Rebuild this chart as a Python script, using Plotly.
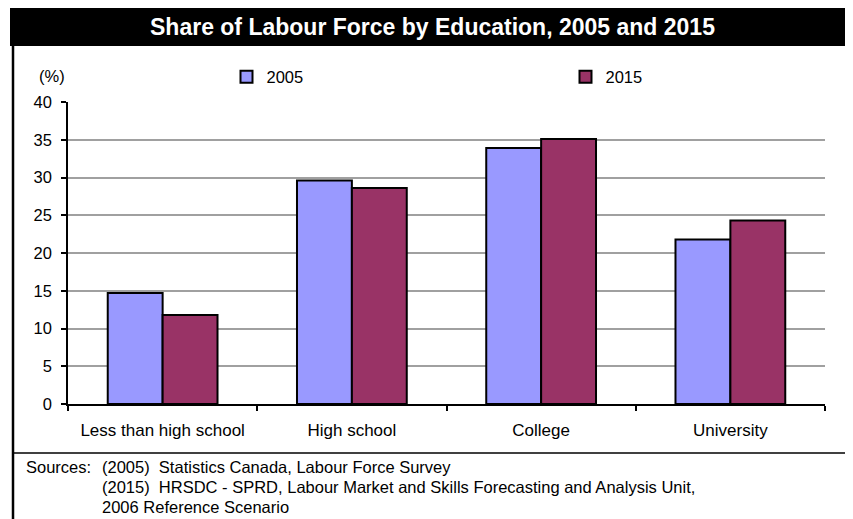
import plotly.graph_objects as go

categories = ["Less than high school", "High school", "College", "University"]
share_2005 = [14.7, 29.6, 33.9, 21.8]
share_2015 = [11.8, 28.6, 35.1, 24.3]
y_ticks = [0, 5, 10, 15, 20, 25, 30, 35, 40]

# the page's body margin places the figure 8px in from the top-left corner
OFF = 8
W, H = 853 - OFF, 519 - OFF
FONT = "Liberation Sans, Arial, sans-serif"
FS = 16.5

def px(x):
    return (x - OFF) / W

def py(y):
    return 1 - (y - OFF) / H

fig = go.Figure()
fig.add_trace(go.Bar(
    x=categories, y=share_2005, name="2005",
    marker=dict(color="#9999FF", line=dict(color="black", width=2)),
))
fig.add_trace(go.Bar(
    x=categories, y=share_2015, name="2015",
    marker=dict(color="#993366", line=dict(color="black", width=2)),
))

shapes = [
    # title bar
    dict(type="rect", xref="paper", yref="paper", x0=px(10), x1=px(849), y0=py(46), y1=py(7),
         fillcolor="black", line=dict(color="black", width=0), layer="below"),
    # frame left/right
    dict(type="line", xref="paper", yref="paper", x0=px(13), x1=px(13), y0=py(46), y1=py(519),
         line=dict(color="black", width=2.5)),
    dict(type="line", xref="paper", yref="paper", x0=px(848), x1=px(848), y0=py(46), y1=py(519),
         line=dict(color="black", width=2.5)),
    # separator
    dict(type="line", xref="paper", yref="paper", x0=px(13), x1=px(848), y0=py(453), y1=py(453),
         line=dict(color="black", width=1.5)),
]

def note(text, x, y, size=FS, color="black", anchor="left"):
    return dict(text=text, xref="paper", yref="paper", x=px(x), y=py(y), showarrow=False,
                font=dict(family=FONT, size=size, color=color), xanchor=anchor, yanchor="middle")

annotations = [
    note("<b>Share of Labour Force by Education, 2005 and 2015</b>", 432, 27, size=23,
         color="white", anchor="center"),
    note("(%)", 37, 76),
    note("Sources:", 24, 467),
    note("(2005)\u00a0\u00a0Statistics Canada, Labour Force Survey", 100, 467),
    note("(2015)\u00a0\u00a0HRSDC - SPRD, Labour Market and Skills Forecasting and Analysis Unit,", 100, 487),
    note("2006 Reference Scenario", 100, 507),
]

fig.update_layout(
    width=W, height=H,
    margin=dict(l=0, r=0, t=0, b=0, pad=0, autoexpand=False),
    paper_bgcolor="white", plot_bgcolor="white",
    barmode="group", bargap=0.42, bargroupgap=0,
    font=dict(family=FONT, size=17, color="black"),
    shapes=shapes, annotations=annotations,
    legend=dict(x=px(226.5), y=py(77), xanchor="left", yanchor="middle", orientation="h",
                entrywidth=294, entrywidthmode="pixels",
                bgcolor="rgba(0,0,0,0)", font=dict(family=FONT, size=FS, color="black")),
    xaxis=dict(domain=[px(68), px(825)], showline=True, linecolor="black", linewidth=1.5,
               ticks="outside", tickson="boundaries", ticklen=5, tickcolor="black", tickwidth=1.5,
               showgrid=False, ticklabelstandoff=10, automargin=False, fixedrange=True,
               tickfont=dict(family=FONT, size=17)),
    yaxis=dict(domain=[py(404), py(102)], range=[0, 40], tickvals=y_ticks, showline=True,
               linecolor="black", linewidth=1.5, ticks="outside", ticklen=5, tickcolor="black",
               tickwidth=1.5, gridcolor="#a0a0a0", gridwidth=1.5, zeroline=False,
               ticklabelstandoff=6, automargin=False, fixedrange=True,
               tickfont=dict(family=FONT, size=16.5)),
)

fig.write_html("out.html")
